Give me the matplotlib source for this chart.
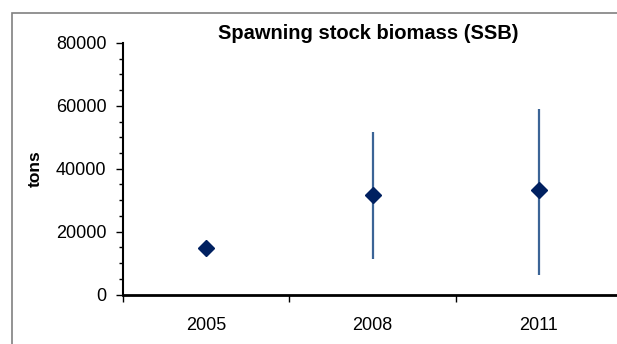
import matplotlib
matplotlib.use("Agg")
import matplotlib.pyplot as plt
from matplotlib.patches import Rectangle
from matplotlib.ticker import MultipleLocator

plt.rcParams['font.family'] = ['Liberation Sans', 'DejaVu Sans']

years = ['2005', '2008', '2011']
ssb = [14800, 31600, 33100]
ssb_low = [14800, 11300, 6300]
ssb_high = [14800, 51600, 59000]

W, H = 617, 344
fig = plt.figure(figsize=(W / 100, H / 100), dpi=100)

# outer chart frame (runs off the right and bottom edges)
fig.patches.append(Rectangle((12 / W, -0.1), 1.2, 1 - 13.5 / H + 0.1,
                             transform=fig.transFigure, fill=False,
                             edgecolor='#808080', linewidth=1.2))

ax = fig.add_axes([123 / W, 1 - 294.5 / H, 499 / W, 251.5 / H])

x = list(range(len(years)))
yerr = [[v - lo for v, lo in zip(ssb, ssb_low)],
        [hi - v for v, hi in zip(ssb, ssb_high)]]
ax.errorbar(x, ssb, yerr=yerr, fmt='none', ecolor='#3B6496',
            elinewidth=1.6, capsize=0, zorder=2)
ax.plot(x, ssb, linestyle='none', marker='D', markersize=8,
        color='#002060', zorder=3)

ax.set_ylim(0, 80000)
ax.set_xlim(-0.5, len(years) - 0.5)
ax.yaxis.set_major_locator(MultipleLocator(20000))
ax.yaxis.set_minor_locator(MultipleLocator(5000))
ax.set_xticks([i - 0.5 for i in range(len(years) + 1)])
ax.set_xticklabels([])
ax.set_xticks(x, minor=True)
ax.set_xticklabels(years, minor=True)

ax.tick_params(axis='x', which='major', direction='out', length=5, width=1)
ax.tick_params(axis='x', which='minor', length=0, labelsize=13, pad=16)
ax.tick_params(axis='y', which='major', direction='out', length=5, width=1,
               labelsize=13, pad=7)
ax.tick_params(axis='y', which='minor', direction='out', length=3, width=1)

for side in ('top', 'right'):
    ax.spines[side].set_visible(False)
ax.spines['left'].set_linewidth(1.5)
ax.spines['bottom'].set_linewidth(2)

ax.set_ylabel('tons', fontsize=12.5, fontweight='bold', labelpad=9)
ax.set_title('Spawning stock biomass (SSB)', fontsize=14.5, fontweight='bold',
             pad=3, x=(368 - 123) / 499)

fig.savefig('out.png', dpi=100)
